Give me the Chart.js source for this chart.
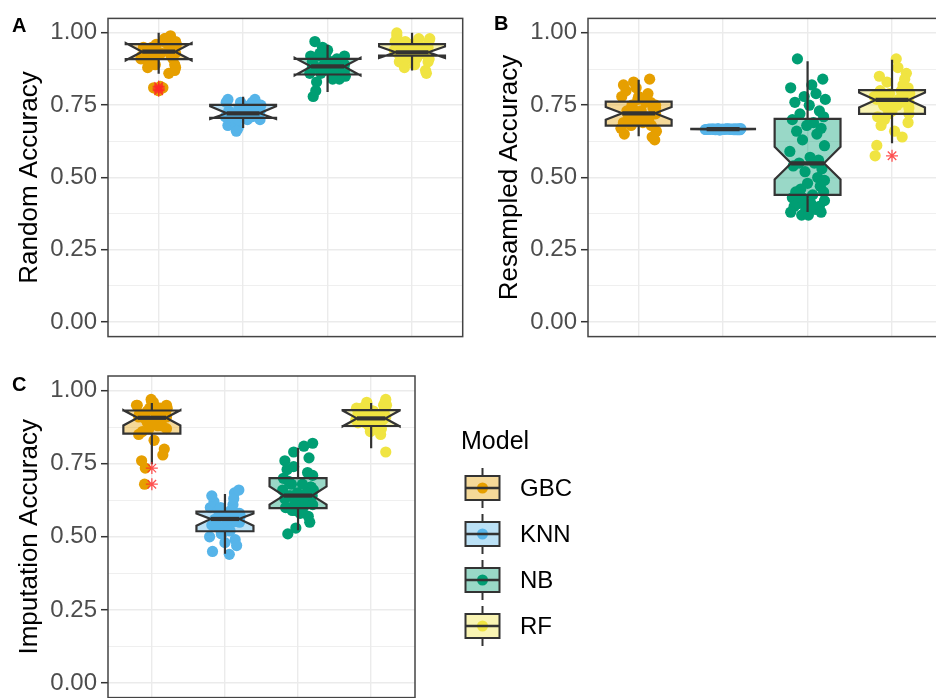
<!DOCTYPE html>
<html>
<head>
<meta charset="utf-8">
<script src="https://cdn.jsdelivr.net/npm/chart.js@4.4.0/dist/chart.umd.min.js"></script>
<style>
  body { margin: 0; width: 936px; height: 698px; overflow: hidden; background: #fff; position: relative;
         font-family: "Liberation Sans", Arial, Helvetica, sans-serif; }
  canvas { position: absolute; }
  .tag { position: absolute; font-weight: bold; font-size: 20px; line-height: 20px; color: #000; }
</style>
</head>
<body>
<canvas id="chart-a" width="470" height="355" style="left:0;top:0"></canvas>
<canvas id="chart-b" width="470" height="355" style="left:480px;top:0"></canvas>
<canvas id="chart-c" width="620" height="366" style="left:0;top:350px"></canvas>
<div class="tag" style="left:12px;top:15px">A</div>
<div class="tag" style="left:494px;top:13px">B</div>
<div class="tag" style="left:12px;top:374px">C</div>
<script>
// ---------------- DATA ----------------
const models = ["GBC", "KNN", "NB", "RF"];
const yTicks = [0, 0.25, 0.5, 0.75, 1];
const yMinorTicks = [0.125, 0.375, 0.625, 0.875];

// horizontal jitter of the points, in category units
const jitterX = [
  -0.12, 0.18, 0.05, -0.2, 0.1, -0.04, 0.21, -0.15, 0.02, 0.14,
  -0.09, 0.19, -0.18, 0.07, -0.01, 0.16, -0.13, 0.11, -0.06, 0.2,
  -0.21, 0.03, 0.13, -0.1, 0.08, -0.17, 0.17, -0.03, 0.12, 0.2,
  0.0, 0.15, -0.08, 0.19, -0.14, 0.06, -0.18, -0.06, -0.05, 0.2,
  -0.11, 0.04, -0.16, 0.14, -0.02, 0.09, -0.2, 0.16, -0.07, 0.01,
];

// Panel A - Random Accuracy
const randomWhiskerLow = [0.859, 0.671, 0.796, 0.87];
const randomQ1 = [0.909, 0.706, 0.856, 0.921];
const randomMedian = [0.935, 0.722, 0.884, 0.933];
const randomQ3 = [0.961, 0.751, 0.91, 0.961];
const randomWhiskerHigh = [1.0, 0.779, 0.959, 1.0];
const randomNotchLow = [0.905, 0.702, 0.853, 0.913];
const randomNotchHigh = [0.965, 0.746, 0.914, 0.953];
const randomGBC = [0.93, 0.95, 0.81, 0.92, 0.97, 0.89, 0.96, 0.92, 0.815, 0.99,
  0.93, 0.87, 0.95, 0.98, 0.805, 0.94, 0.88, 0.96, 0.92, 0.97,
  0.91, 0.93, 0.95, 0.9, 0.98, 0.94, 0.91, 0.96, 0.86, 0.93,
  0.8, 0.92, 0.95, 0.89, 0.94, 0.97, 0.91, 0.81, 0.93, 0.88];
const randomKNN = [0.72, 0.74, 0.7, 0.76, 0.71, 0.73, 0.75, 0.69, 0.72, 0.77,
  0.71, 0.74, 0.68, 0.73, 0.72, 0.75, 0.7, 0.76, 0.67, 0.73,
  0.71, 0.74, 0.72, 0.69, 0.75, 0.73, 0.71, 0.76, 0.72, 0.7,
  0.74, 0.73, 0.66, 0.75, 0.71, 0.72, 0.77, 0.7, 0.74, 0.73];
const randomNB = [0.88, 0.9, 0.86, 0.92, 0.87, 0.89, 0.85, 0.97, 0.88, 0.84,
  0.93, 0.87, 0.9, 0.86, 0.91, 0.89, 0.83, 0.91, 0.88, 0.92,
  0.86, 0.9, 0.87, 0.92, 0.85, 0.78, 0.89, 0.91, 0.88, 0.87,
  0.94, 0.9, 0.86, 0.88, 0.8, 0.84, 0.88, 0.95, 0.87, 0.89];
const randomRF = [0.93, 0.95, 0.91, 0.97, 0.94, 0.92, 0.98, 0.9, 0.96, 0.93,
  0.88, 0.95, 0.99, 0.92, 0.94, 0.87, 0.96, 0.93, 0.91, 0.97,
  0.94, 0.89, 0.95, 0.92, 0.98, 0.93, 0.86, 0.96, 0.94, 0.91,
  0.95, 0.93, 0.97, 0.9, 0.94, 0.92, 1.0, 0.93, 0.95, 0.91];
const randomOutliers = [[0.815, 0.81, 0.805, 0.8], [], [], []];

// Panel B - Resampled Accuracy
const resampledWhiskerLow = [0.643, 0.666, 0.381, 0.618];
const resampledQ1 = [0.679, 0.666, 0.44, 0.72];
const resampledMedian = [0.722, 0.667, 0.549, 0.768];
const resampledQ3 = [0.762, 0.668, 0.703, 0.802];
const resampledWhiskerHigh = [0.838, 0.668, 0.902, 0.907];
const resampledNotchLow = [0.7, 0.666, 0.493, 0.742];
const resampledNotchHigh = [0.744, 0.668, 0.606, 0.794];
const resampledGBC = [0.72, 0.75, 0.69, 0.78, 0.7, 0.73, 0.66, 0.8, 0.71, 0.76,
  0.68, 0.74, 0.82, 0.7, 0.77, 0.64, 0.72, 0.79, 0.69, 0.75,
  0.67, 0.73, 0.84, 0.71, 0.76, 0.65, 0.74, 0.81, 0.7, 0.72,
  0.78, 0.68, 0.75, 0.63, 0.73, 0.77, 0.69, 0.83, 0.71, 0.74];
const resampledKNN = [0.667, 0.665, 0.668, 0.666, 0.667, 0.664, 0.669, 0.667, 0.666, 0.668,
  0.665, 0.667, 0.666, 0.668, 0.667, 0.665, 0.667, 0.666, 0.669, 0.667,
  0.666, 0.668, 0.665, 0.667, 0.666, 0.667, 0.668, 0.666, 0.667, 0.665];
const resampledNB = [0.91, 0.84, 0.82, 0.81, 0.79, 0.78, 0.77, 0.76, 0.75, 0.73,
  0.72, 0.71, 0.7, 0.69, 0.68, 0.67, 0.66, 0.65, 0.63, 0.61,
  0.59, 0.57, 0.56, 0.55, 0.55, 0.54, 0.53, 0.52, 0.5, 0.49,
  0.48, 0.47, 0.46, 0.45, 0.45, 0.44, 0.43, 0.43, 0.42, 0.42,
  0.41, 0.41, 0.4, 0.4, 0.39, 0.39, 0.38, 0.38, 0.37, 0.37];
const resampledRF = [0.77, 0.8, 0.91, 0.575, 0.76, 0.72, 0.79, 0.85, 0.75, 0.78,
  0.7, 0.81, 0.77, 0.88, 0.73, 0.76, 0.68, 0.8, 0.74, 0.74,
  0.78, 0.66, 0.82, 0.75, 0.77, 0.71, 0.86, 0.79, 0.64, 0.76,
  0.73, 0.84, 0.78, 0.69, 0.8, 0.75, 0.611, 0.83, 0.77, 0.72];
const resampledOutliers = [[], [], [], [0.575]];

// Panel C - Imputation Accuracy
const imputationWhiskerLow = [0.748, 0.442, 0.522, 0.803];
const imputationQ1 = [0.853, 0.519, 0.598, 0.879];
const imputationMedian = [0.907, 0.561, 0.641, 0.905];
const imputationQ3 = [0.932, 0.586, 0.701, 0.933];
const imputationWhiskerHigh = [0.958, 0.646, 0.805, 0.958];
const imputationNotchLow = [0.881, 0.538, 0.61, 0.878];
const imputationNotchHigh = [0.933, 0.58, 0.672, 0.932];
const imputationGBC = [0.91, 0.93, 0.89, 0.95, 0.9, 0.87, 0.94, 0.92, 0.96, 0.88,
  0.735, 0.93, 0.85, 0.9, 0.97, 0.92, 0.86, 0.94, 0.89, 0.91,
  0.95, 0.83, 0.9, 0.68, 0.88, 0.92, 0.8, 0.94, 0.91, 0.87,
  0.96, 0.78, 0.9, 0.93, 0.76, 0.92, 0.91, 0.93, 0.89, 0.95];
const imputationKNN = [0.56, 0.58, 0.53, 0.6, 0.55, 0.51, 0.57, 0.62, 0.54, 0.49,
  0.59, 0.56, 0.64, 0.52, 0.57, 0.47, 0.55, 0.61, 0.53, 0.58,
  0.5, 0.56, 0.65, 0.54, 0.59, 0.45, 0.57, 0.52, 0.63, 0.55,
  0.48, 0.58, 0.53, 0.66, 0.56, 0.44, 0.54, 0.6, 0.51, 0.57];
const imputationNB = [0.64, 0.67, 0.61, 0.7, 0.63, 0.59, 0.66, 0.73, 0.62, 0.57,
  0.68, 0.64, 0.76, 0.6, 0.65, 0.55, 0.69, 0.63, 0.79, 0.61,
  0.66, 0.58, 0.72, 0.64, 0.81, 0.6, 0.67, 0.53, 0.65, 0.71,
  0.62, 0.77, 0.59, 0.64, 0.51, 0.68, 0.63, 0.74, 0.61, 0.82];
const imputationRF = [0.9, 0.92, 0.88, 0.94, 0.91, 0.89, 0.95, 0.9, 0.93, 0.87,
  0.91, 0.96, 0.89, 0.92, 0.86, 0.9, 0.94, 0.88, 0.91, 0.97,
  0.9, 0.93, 0.85, 0.92, 0.89, 0.91, 0.95, 0.88, 0.9, 0.79,
  0.93, 0.91, 0.89, 0.94, 0.9, 0.87, 0.92, 0.96, 0.9, 0.91];
const imputationOutliers = [[0.735, 0.68], [], [], []];

// ---------------- STYLE ----------------
const modelColors = ["#E69F00", "#56B4E9", "#009E73", "#F0E442"];
const boxWidth = 0.78;
const lineColor = "#333333";
const gridColor = "#EBEBEB";

Chart.defaults.font.family = '"Liberation Sans", Arial, Helvetica, sans-serif';

function withAlpha(hex, a) {
  const n = parseInt(hex.slice(1), 16);
  return `rgba(${n >> 16}, ${(n >> 8) & 255}, ${n & 255}, ${a})`;
}

// ggplot-like notched box: whiskers, notched polygon, thick median
function drawNotchedBox(ctx, cx, half, Y, s, color) {
  const indent = half * 0.5;
  ctx.save();
  ctx.strokeStyle = lineColor;
  ctx.lineWidth = 2.2;
  ctx.beginPath();
  ctx.moveTo(cx, Y(s.q3));
  ctx.lineTo(cx, Y(s.hi));
  ctx.moveTo(cx, Y(s.q1));
  ctx.lineTo(cx, Y(s.lo));
  ctx.stroke();

  ctx.beginPath();
  ctx.moveTo(cx - half, Y(s.q3));
  ctx.lineTo(cx - half, Y(s.nHi));
  ctx.lineTo(cx - half + indent, Y(s.med));
  ctx.lineTo(cx - half, Y(s.nLo));
  ctx.lineTo(cx - half, Y(s.q1));
  ctx.lineTo(cx + half, Y(s.q1));
  ctx.lineTo(cx + half, Y(s.nLo));
  ctx.lineTo(cx + half - indent, Y(s.med));
  ctx.lineTo(cx + half, Y(s.nHi));
  ctx.lineTo(cx + half, Y(s.q3));
  ctx.closePath();
  ctx.fillStyle = withAlpha(color, 0.4);
  ctx.fill();
  ctx.stroke();

  ctx.lineWidth = 4.2;
  ctx.beginPath();
  ctx.moveTo(cx - half + indent, Y(s.med));
  ctx.lineTo(cx + half - indent, Y(s.med));
  ctx.stroke();
  ctx.restore();
}

// legend with boxplot keys, drawn on panel C's canvas
function drawLegend(ctx) {
  ctx.save();
  ctx.fillStyle = "#000";
  ctx.textBaseline = "middle";
  ctx.textAlign = "left";
  ctx.font = '25px "Liberation Sans", Arial, sans-serif';
  ctx.fillText("Model", 461, 92);
  const keyY = [138, 184, 230, 276];
  models.forEach((m, k) => {
    const cy = keyY[k];
    const cx = 482.5;
    ctx.strokeStyle = lineColor;
    ctx.lineWidth = 2;
    ctx.beginPath();
    ctx.moveTo(cx, cy - 20);
    ctx.lineTo(cx, cy + 20);
    ctx.stroke();
    ctx.fillStyle = "#fff";
    ctx.fillRect(cx - 17, cy - 12, 34, 24);
    ctx.fillStyle = withAlpha(modelColors[k], 0.4);
    ctx.fillRect(cx - 17, cy - 12, 34, 24);
    ctx.strokeRect(cx - 17, cy - 12, 34, 24);
    ctx.fillStyle = modelColors[k];
    ctx.beginPath();
    ctx.arc(cx, cy, 5.5, 0, Math.PI * 2);
    ctx.fill();
    ctx.lineWidth = 2.4;
    ctx.beginPath();
    ctx.moveTo(cx - 17, cy);
    ctx.lineTo(cx + 17, cy);
    ctx.stroke();
    ctx.fillStyle = "#000";
    ctx.font = '24px "Liberation Sans", Arial, sans-serif';
    ctx.fillText(m, 520, cy + 1);
  });
  ctx.restore();
}

function makePanel(canvasId, axisTitle, stats, points, outliers, padding, withLegend) {
  const datasets = points.map((vals, k) => ({
    label: models[k],
    data: vals.map((v, i) => ({ x: k + 1 + jitterX[i % jitterX.length], y: v })),
    backgroundColor: modelColors[k],
    borderWidth: 0,
    pointRadius: 5.6,
    order: 2,
  }));
  datasets.push({
    label: "outliers",
    isOutlier: true,
    data: outliers.flatMap((vals, k) => vals.map((v) => ({ x: k + 1, y: v }))),
    pointStyle: "star",
    pointRadius: 6,
    borderColor: "rgba(255, 40, 40, 0.8)",
    backgroundColor: "transparent",
    borderWidth: 1.3,
    order: 0,
  });

  const boxPlugin = {
    id: "notchedBoxes",
    // boxes go above the jittered points but below the outlier stars
    beforeDatasetDraw(chart, args) {
      if (!chart.data.datasets[args.index].isOutlier) return;
      const { ctx, scales: { x, y } } = chart;
      const half = x.getPixelForValue(1 + boxWidth / 2) - x.getPixelForValue(1);
      const Y = (v) => y.getPixelForValue(v);
      models.forEach((m, k) => {
        drawNotchedBox(ctx, x.getPixelForValue(k + 1), half, Y, {
          lo: stats.lo[k], q1: stats.q1[k], med: stats.med[k], q3: stats.q3[k], hi: stats.hi[k],
          nLo: stats.nLo[k], nHi: stats.nHi[k],
        }, modelColors[k]);
      });
    },
    afterDraw(chart) {
      const { ctx, chartArea: a } = chart;
      ctx.save();
      ctx.strokeStyle = "#444";
      ctx.lineWidth = 1.5;
      ctx.strokeRect(a.left, a.top, a.right - a.left, a.bottom - a.top);
      ctx.restore();
      if (withLegend) drawLegend(ctx);
    },
  };

  return new Chart(document.getElementById(canvasId), {
    type: "scatter",
    data: { datasets },
    plugins: [boxPlugin],
    options: {
      responsive: false,
      animation: false,
      layout: { padding },
      plugins: { legend: { display: false }, tooltip: { enabled: false } },
      scales: {
        x: {
          type: "linear",
          min: 0.4,
          max: 4.6,
          afterBuildTicks: (s) => { s.ticks = models.map((m, k) => ({ value: k + 1 })); },
          afterFit: (s) => { s.height = 0; },
          ticks: { display: false },
          grid: { color: gridColor, lineWidth: 1.4, drawTicks: false },
          border: { display: false },
        },
        y: {
          min: -0.05,
          max: 1.05,
          afterBuildTicks: (s) => {
            s.ticks = yTicks.concat(yMinorTicks).sort((a, b) => a - b).map((v) => ({ value: v }));
          },
          afterFit: (s) => { s.width = 108; },
          ticks: {
            callback: (v) => (yTicks.includes(v) ? v.toFixed(2) : ""),
            color: "#4D4D4D",
            font: { size: 24 },
            padding: 4,
            autoSkip: false,
          },
          grid: {
            color: gridColor,
            lineWidth: (c) => (yTicks.includes(c.tick.value) ? 1.4 : 0.8),
            tickColor: (c) => (yTicks.includes(c.tick.value) ? lineColor : "rgba(0,0,0,0)"),
            tickLength: 7,
            tickWidth: 1.5,
          },
          border: { display: false },
          title: {
            display: true,
            text: axisTitle,
            color: "#000",
            font: { size: 26 },
            padding: { top: 14, bottom: 0 },
          },
        },
      },
    },
  });
}

makePanel("chart-a", "Random Accuracy",
  { lo: randomWhiskerLow, q1: randomQ1, med: randomMedian, q3: randomQ3, hi: randomWhiskerHigh,
    nLo: randomNotchLow, nHi: randomNotchHigh },
  [randomGBC, randomKNN, randomNB, randomRF], randomOutliers,
  { top: 17, right: 3, bottom: 15, left: 0 }, false);

makePanel("chart-b", "Resampled Accuracy",
  { lo: resampledWhiskerLow, q1: resampledQ1, med: resampledMedian, q3: resampledQ3, hi: resampledWhiskerHigh,
    nLo: resampledNotchLow, nHi: resampledNotchHigh },
  [resampledGBC, resampledKNN, resampledNB, resampledRF], resampledOutliers,
  { top: 17, right: 3, bottom: 15, left: 0 }, false);

makePanel("chart-c", "Imputation Accuracy",
  { lo: imputationWhiskerLow, q1: imputationQ1, med: imputationMedian, q3: imputationQ3, hi: imputationWhiskerHigh,
    nLo: imputationNotchLow, nHi: imputationNotchHigh },
  [imputationGBC, imputationKNN, imputationNB, imputationRF], imputationOutliers,
  { top: 26, right: 205, bottom: 16, left: 0 }, true);
</script>
</body>
</html>
